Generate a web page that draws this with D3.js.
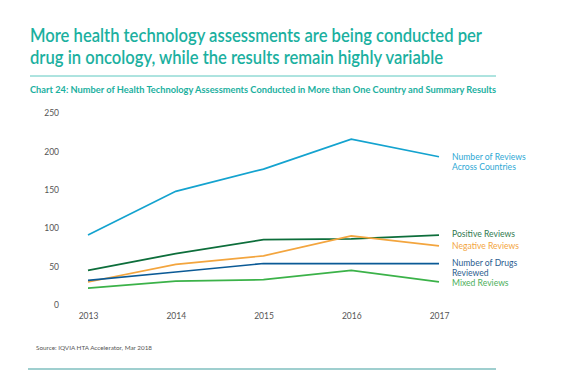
<!DOCTYPE html>
<html>
<head>
<meta charset="utf-8">
<script src="https://cdn.jsdelivr.net/npm/d3@7"></script>
<style>
  body { margin: 0; background: #fff; }
  svg { display: block; font-family: Lato, "Open Sans", sans-serif; }
</style>
</head>
<body>
<svg id="chart" width="578" height="371"></svg>
<script>
// chart values
var years = ["2013", "2014", "2015", "2016", "2017"];
var yTicks = [0, 50, 100, 150, 200, 250];

var reviewsAcross = [91, 148, 177, 216, 193];
var positiveReviews = [45, 67, 85, 86, 91];
var negativeReviews = [30, 53, 64, 90, 77];
var drugsReviewed = [32, 43, 54, 54, 54];
var mixedReviews = [22, 31, 33, 45, 30];

var seriesNames = [
    ["Number of Reviews", "Across Countries"],
    ["Positive Reviews"],
    ["Negative Reviews"],
    ["Number of  Drugs", "Reviewed"],
    ["Mixed Reviews"]
];

var svg = d3.select("#chart");
var teal = "#1bb0a0";

// headline, squeezed to the width of the original typeface
svg.append("text")
    .attr("x", 30).attr("y", 42)
    .attr("fill", teal)
    .attr("font-size", 19)
    .attr("font-weight", 600)
    .attr("textLength", 452)
    .attr("lengthAdjust", "spacingAndGlyphs")
    .text("More health technology assessments are being conducted per");
svg.append("text")
    .attr("x", 30).attr("y", 64)
    .attr("fill", teal)
    .attr("font-size", 19)
    .attr("font-weight", 600)
    .attr("textLength", 413)
    .attr("lengthAdjust", "spacingAndGlyphs")
    .text("drug in oncology, while the results remain highly variable");

svg.append("line")
    .attr("x1", 30).attr("x2", 496)
    .attr("y1", 76).attr("y2", 76)
    .attr("stroke", "#5cc8c0").attr("stroke-width", 1);

svg.append("text")
    .attr("x", 30).attr("y", 93)
    .attr("fill", teal)
    .attr("font-size", 8.5)
    .attr("font-weight", 700)
    .attr("textLength", 466)
    .attr("lengthAdjust", "spacingAndGlyphs")
    .text("Chart 24: Number of Health Technology Assessments Conducted in More than One Country and Summary Results");

// scales
var x = d3.scalePoint().domain(years).range([88, 439]);
var y = d3.scaleLinear().domain([0, 250]).range([305, 113]);

var yAxis = svg.append("g")
    .attr("transform", "translate(59,0)")
    .call(d3.axisLeft(y).tickValues(yTicks).tickSize(0).tickPadding(0));
yAxis.select(".domain").remove();
yAxis.selectAll("text")
    .attr("fill", "#555")
    .attr("font-size", 8.5)
    .attr("font-family", "Lato, sans-serif");

var xAxis = svg.append("g")
    .attr("transform", "translate(0,313)")
    .call(d3.axisBottom(x).tickSize(0).tickPadding(0));
xAxis.select(".domain").remove();
xAxis.selectAll("text")
    .attr("fill", "#555")
    .attr("font-size", 8.5)
    .attr("font-family", "Lato, sans-serif");

// lines
var series = [
    { values: reviewsAcross, color: "#14a3cf", labelColor: "#2ea8d4", labelY: 160 },
    { values: positiveReviews, color: "#0d6e3b", labelColor: "#2f7a4f", labelY: 237 },
    { values: negativeReviews, color: "#f3a53e", labelColor: "#f3a53e", labelY: 249 },
    { values: drugsReviewed, color: "#0b5a96", labelColor: "#2c5d8f", labelY: 266 },
    { values: mixedReviews, color: "#3bb249", labelColor: "#4caf5a", labelY: 286 }
];

var line = d3.line()
    .x(function(d, i) { return x(years[i]); })
    .y(function(d) { return y(d); });

series.forEach(function(s, k) {
    svg.append("path")
        .datum(s.values)
        .attr("d", line)
        .attr("fill", "none")
        .attr("stroke", s.color)
        .attr("stroke-width", 1.7);

    var t = svg.append("text")
        .attr("x", 452)
        .attr("y", s.labelY)
        .attr("fill", s.labelColor)
        .attr("font-size", 8.6);
    seriesNames[k].forEach(function(part, j) {
        t.append("tspan")
            .attr("x", 452)
            .attr("dy", j === 0 ? 0 : 9.5)
            .text(part);
    });
});

// source
svg.append("text")
    .attr("x", 36).attr("y", 350)
    .attr("fill", "#555")
    .attr("font-size", 6.5)
    .attr("textLength", 116)
    .attr("lengthAdjust", "spacingAndGlyphs")
    .text("Source: IQVIA HTA Accelerator, Mar 2018");

svg.append("line")
    .attr("x1", 28).attr("x2", 496)
    .attr("y1", 369).attr("y2", 369)
    .attr("stroke", "#9fcfcf").attr("stroke-width", 2);
</script>
</body>
</html>
